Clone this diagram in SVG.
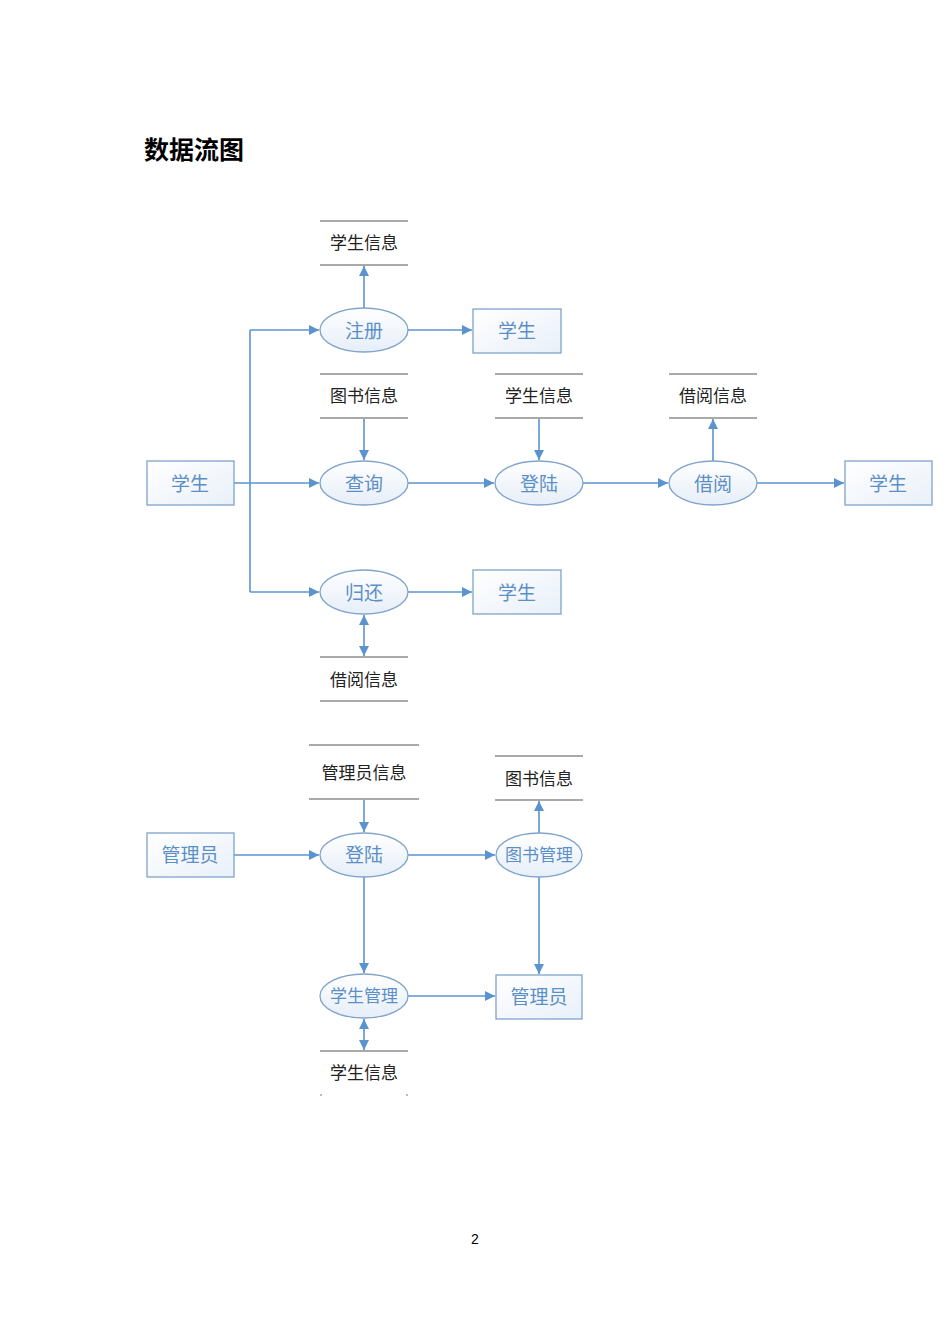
<svg xmlns="http://www.w3.org/2000/svg" width="950" height="1344" viewBox="0 0 950 1344">
<defs>
<linearGradient id="gE" x1="0" y1="0" x2="0" y2="1"><stop offset="0" stop-color="#ffffff"/><stop offset="1" stop-color="#e6eef8"/></linearGradient>
<linearGradient id="gR" x1="0" y1="0" x2="1" y2="1"><stop offset="0" stop-color="#ffffff"/><stop offset="1" stop-color="#e9f0f9"/></linearGradient>
<marker id="ah" viewBox="0 0 10 10" refX="10" refY="5" markerWidth="10" markerHeight="10" markerUnits="userSpaceOnUse" orient="auto-start-reverse"><path d="M0,0 L10,5 L0,10 z" fill="#5b93cf"/></marker>
</defs>
<style>
.c{stroke:#5b93cf;stroke-width:1.6;fill:none}
.e{fill:url(#gE);stroke:#7fa3cc;stroke-width:1.3}
.r{fill:url(#gR);stroke:#7fa3cc;stroke-width:1.3}
.s{stroke:#555;stroke-width:1.2}
.t{font-family:"Noto Sans CJK SC","Liberation Sans",sans-serif;fill:#5b8fc7;font-size:19px;text-anchor:middle;dominant-baseline:central}
.d{font-family:"Noto Sans CJK SC","Liberation Sans",sans-serif;fill:#222;font-size:17px;text-anchor:middle;dominant-baseline:central}
</style>
<rect width="950" height="1344" fill="#fff"/>
<text x="144" y="148" font-family="Noto Sans CJK SC, sans-serif" font-weight="bold" font-size="25" fill="#000" dominant-baseline="central">数据流图</text>
<g id="connectors">
<path class="c" d="M364,308 V266" marker-end="url(#ah)"/>
<path class="c" d="M408,330 H472" marker-end="url(#ah)"/>
<path class="c" d="M250,330 H319" marker-end="url(#ah)"/>
<path class="c" d="M250,330 V592"/>
<path class="c" d="M250,592 H319" marker-end="url(#ah)"/>
<path class="c" d="M234,483 H319" marker-end="url(#ah)"/>
<path class="c" d="M364,419 V460" marker-end="url(#ah)"/>
<path class="c" d="M408,483 H494" marker-end="url(#ah)"/>
<path class="c" d="M539,419 V460" marker-end="url(#ah)"/>
<path class="c" d="M583,483 H668" marker-end="url(#ah)"/>
<path class="c" d="M713,461 V419" marker-end="url(#ah)"/>
<path class="c" d="M757,483 H844" marker-end="url(#ah)"/>
<path class="c" d="M408,592 H472" marker-end="url(#ah)"/>
<path class="c" d="M364,615 V656" marker-start="url(#ah)" marker-end="url(#ah)"/>
<path class="c" d="M364,800 V832" marker-end="url(#ah)"/>
<path class="c" d="M234,855 H319" marker-end="url(#ah)"/>
<path class="c" d="M408,855 H495" marker-end="url(#ah)"/>
<path class="c" d="M539,833 V801" marker-end="url(#ah)"/>
<path class="c" d="M539,877 V974" marker-end="url(#ah)"/>
<path class="c" d="M364,877 V973" marker-end="url(#ah)"/>
<path class="c" d="M408,996 H495" marker-end="url(#ah)"/>
<path class="c" d="M364,1019 V1050" marker-start="url(#ah)" marker-end="url(#ah)"/>
</g>
<g id="ds-xs1"><line class="s" x1="320" y1="221" x2="408" y2="221"/><line class="s" x1="320" y1="265" x2="408" y2="265"/><text class="d" x="364" y="241">学生信息</text></g>
<g id="p-zhuce"><ellipse class="e" cx="364" cy="330" rx="44" ry="22"/><text class="t" x="364" y="329">注册</text></g>
<g id="e-xs1"><rect class="r" x="473" y="309" width="88" height="44"/><text class="t" x="517" y="329">学生</text></g>
<g id="ds-ts1"><line class="s" x1="320" y1="374" x2="408" y2="374"/><line class="s" x1="320" y1="418" x2="408" y2="418"/><text class="d" x="364" y="394">图书信息</text></g>
<g id="ds-xs2"><line class="s" x1="495" y1="374" x2="583" y2="374"/><line class="s" x1="495" y1="418" x2="583" y2="418"/><text class="d" x="539" y="394">学生信息</text></g>
<g id="ds-jy1"><line class="s" x1="669" y1="374" x2="757" y2="374"/><line class="s" x1="669" y1="418" x2="757" y2="418"/><text class="d" x="713" y="394">借阅信息</text></g>
<g id="e-xs-left"><rect class="r" x="147" y="461" width="87" height="44"/><text class="t" x="190" y="482">学生</text></g>
<g id="p-chaxun"><ellipse class="e" cx="364" cy="483" rx="44" ry="22"/><text class="t" x="364" y="482">查询</text></g>
<g id="p-denglu1"><ellipse class="e" cx="539" cy="483" rx="44" ry="22"/><text class="t" x="539" y="482">登陆</text></g>
<g id="p-jieyue"><ellipse class="e" cx="713" cy="483" rx="44" ry="22"/><text class="t" x="713" y="482">借阅</text></g>
<g id="e-xs-right"><rect class="r" x="845" y="461" width="87" height="44"/><text class="t" x="888" y="482">学生</text></g>
<g id="p-guihuan"><ellipse class="e" cx="364" cy="592" rx="44" ry="22"/><text class="t" x="364" y="591">归还</text></g>
<g id="e-xs3"><rect class="r" x="473" y="570" width="88" height="44"/><text class="t" x="517" y="591">学生</text></g>
<g id="ds-jy2"><line class="s" x1="320" y1="657" x2="408" y2="657"/><line class="s" x1="320" y1="701" x2="408" y2="701"/><text class="d" x="364" y="678">借阅信息</text></g>
<g id="ds-gly"><line class="s" x1="309" y1="745" x2="419" y2="745"/><line class="s" x1="309" y1="799" x2="419" y2="799"/><text class="d" x="364" y="771">管理员信息</text></g>
<g id="ds-ts2"><line class="s" x1="495" y1="756" x2="583" y2="756"/><line class="s" x1="495" y1="800" x2="583" y2="800"/><text class="d" x="539" y="777">图书信息</text></g>
<g id="e-gly1"><rect class="r" x="147" y="833" width="87" height="44"/><text class="t" x="190" y="853">管理员</text></g>
<g id="p-denglu2"><ellipse class="e" cx="364" cy="855" rx="44" ry="22"/><text class="t" x="364" y="853">登陆</text></g>
<g id="p-tsgl"><ellipse class="e" cx="539" cy="855" rx="43" ry="22"/><text class="t" x="539" y="853" style="font-size:17px">图书管理</text></g>
<g id="p-xsgl"><ellipse class="e" cx="364" cy="996" rx="44" ry="22"/><text class="t" x="364" y="994" style="font-size:17px">学生管理</text></g>
<g id="e-gly2"><rect class="r" x="496" y="975" width="86" height="44"/><text class="t" x="539" y="995">管理员</text></g>
<g id="ds-xs3"><line class="s" x1="320" y1="1051" x2="408" y2="1051"/><line x1="320" y1="1095" x2="322" y2="1095" stroke="#777"/><line x1="406" y1="1095" x2="408" y2="1095" stroke="#777"/><text class="d" x="364" y="1071">学生信息</text></g>
<text x="475" y="1239" font-family="Liberation Sans, sans-serif" font-size="14" fill="#000" text-anchor="middle" dominant-baseline="central">2</text>
</svg>
